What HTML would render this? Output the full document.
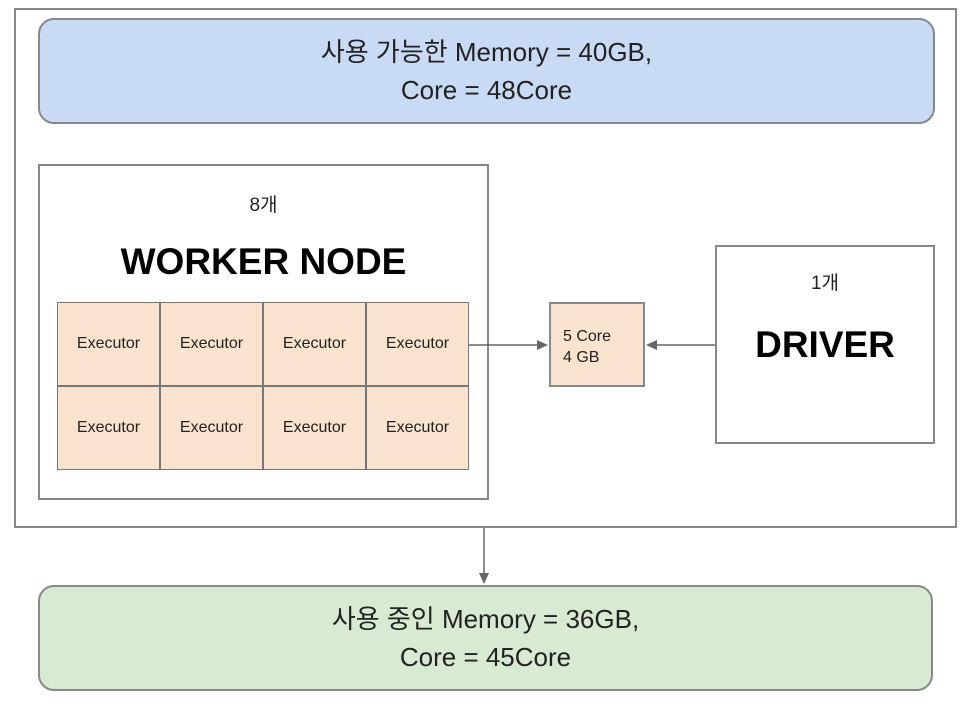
<!DOCTYPE html>
<html><head><meta charset="utf-8"><style>
body{margin:0;width:968px;height:708px;background:#fff;position:relative;font-family:"Liberation Sans","Noto Sans CJK KR",sans-serif;overflow:hidden}
.a{position:absolute;box-sizing:border-box}
.c{display:flex;align-items:center;justify-content:center;text-align:center}
.ex{position:absolute;box-sizing:border-box;width:103px;height:84px;background:#f9e3cf;border:1px solid #777;font-size:16px;color:#222}
</style></head><body>
<div class="a" style="left:14px;top:8px;width:943px;height:520px;border:2px solid #888"></div>
<div class="a c" style="left:38px;top:18px;width:897px;height:106px;background:#c9daf5;border:2px solid #888;border-radius:16px;font-size:26px;line-height:38px;color:#222">사용 가능한 Memory = 40GB,<br>Core = 48Core</div>
<div class="a" style="left:38px;top:164px;width:451px;height:336px;border:2px solid #888;background:#fff"></div>
<div class="a" style="left:38px;top:190px;width:451px;text-align:center;font-size:19px;color:#222">8개</div>
<div class="a" style="left:38px;top:241px;width:451px;text-align:center;font-size:37px;font-weight:bold;color:#000">WORKER NODE</div>
<div class="ex c" style="left:57px;top:302px">Executor</div>
<div class="ex c" style="left:160px;top:302px">Executor</div>
<div class="ex c" style="left:263px;top:302px">Executor</div>
<div class="ex c" style="left:366px;top:302px">Executor</div>
<div class="ex c" style="left:57px;top:386px">Executor</div>
<div class="ex c" style="left:160px;top:386px">Executor</div>
<div class="ex c" style="left:263px;top:386px">Executor</div>
<div class="ex c" style="left:366px;top:386px">Executor</div>
<div class="a" style="left:549px;top:302px;width:96px;height:85px;background:#f9e3cf;border:2px solid #888;font-size:16px;line-height:21px;padding:22px 0 0 12px;color:#222">5 Core<br>4 GB</div>
<div class="a" style="left:715px;top:245px;width:220px;height:199px;border:2px solid #888"></div>
<div class="a" style="left:715px;top:268px;width:220px;text-align:center;font-size:19px;color:#222">1개</div>
<div class="a" style="left:715px;top:324px;width:220px;text-align:center;font-size:37px;font-weight:bold;color:#000">DRIVER</div>
<div class="a c" style="left:38px;top:585px;width:895px;height:106px;background:#d9ead3;border:2px solid #888;border-radius:16px;font-size:26px;line-height:38px;color:#222">사용 중인 Memory = 36GB,<br>Core = 45Core</div>
<svg class="a" style="left:0;top:0" width="968" height="708">
<g stroke="#666" stroke-width="1.5" fill="#666">
<line x1="469" y1="345" x2="540" y2="345"/><polygon points="548,345 537,340 537,350" stroke="none"/>
<line x1="715" y1="345" x2="654" y2="345"/><polygon points="646,345 657,340 657,350" stroke="none"/>
<line x1="484" y1="528" x2="484" y2="574"/><polygon points="484,584 479,573 489,573" stroke="none"/>
</g></svg>
</body></html>
